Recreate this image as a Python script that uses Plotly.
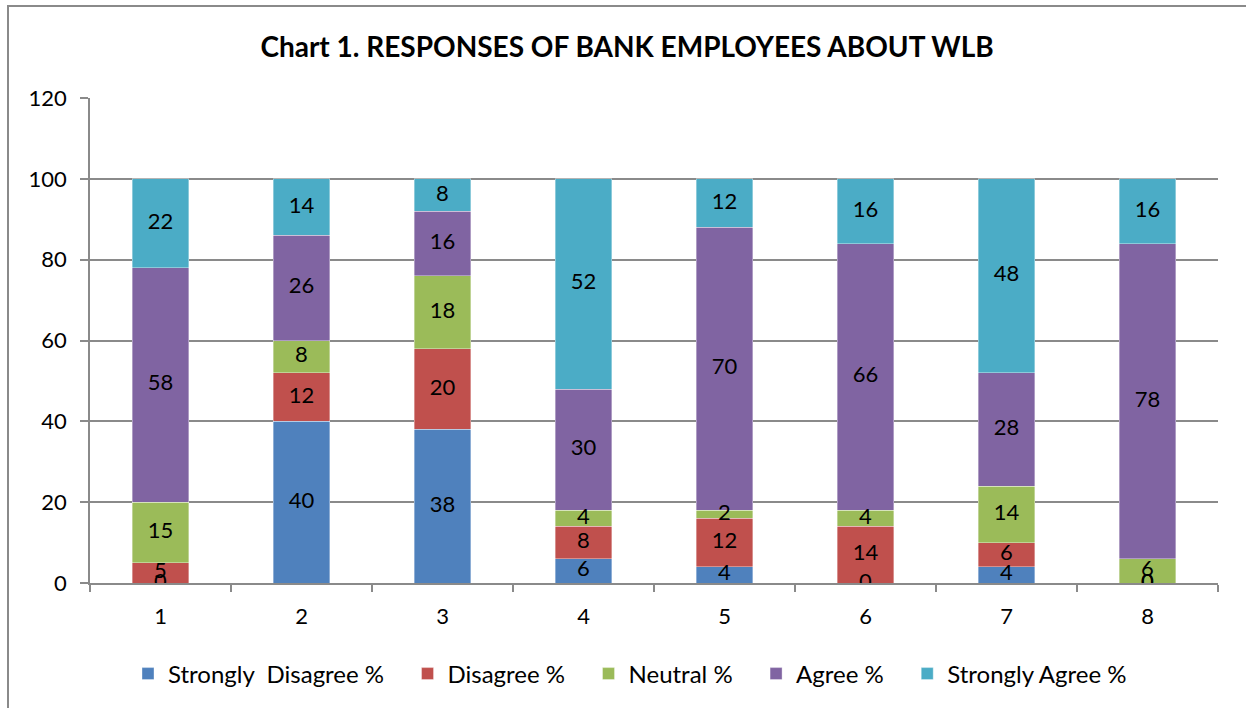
import plotly.graph_objects as go

# Survey items (x categories) and percentage of responses per option
items = ["1", "2", "3", "4", "5", "6", "7", "8"]
strongly_disagree = [0, 40, 38, 6, 4, 0, 4, 0]
disagree = [5, 12, 20, 8, 12, 14, 6, 0]
neutral = [15, 8, 18, 4, 2, 4, 14, 6]
agree = [58, 26, 16, 30, 70, 66, 28, 78]
strongly_agree = [22, 14, 8, 52, 12, 16, 48, 16]

series_names = ["Strongly  Disagree %", "Disagree %", "Neutral %", "Agree %", "Strongly Agree %"]
series_values = [strongly_disagree, disagree, neutral, agree, strongly_agree]
series_colors = ["#4F81BD", "#C0504D", "#9BBB59", "#8064A2", "#4BACC6"]

FONT = "Lato"
W, H = 1246, 708
L, R, T, B = 90, 28, 98, 125
GREY = "#8a8a8a"
LEGEND_PAD = "   "  # extra spacing between legend entries

fig = go.Figure()

# Stacked bars
for i, (name, vals, color) in enumerate(zip(series_names, series_values, series_colors)):
    label = name + (LEGEND_PAD if i < len(series_names) - 1 else "")
    fig.add_trace(go.Bar(
        x=items, y=vals, name=label,
        marker=dict(color=color, line=dict(color="rgba(255,255,255,0.6)", width=0.6)),
        hovertemplate=name + ": %{y}<extra></extra>",
    ))

# Value labels centred in each segment (zero-height segments labelled at their base)
base = [0] * len(items)
for vals in series_values:
    mids = [b + v / 2 for b, v in zip(base, vals)]
    fig.add_trace(go.Scatter(
        x=items, y=mids, mode="text", text=[str(v) for v in vals],
        textfont=dict(family=FONT, size=22, color="black"),
        showlegend=False, hoverinfo="skip",
    ))
    base = [b + v for b, v in zip(base, vals)]

# Outer chart frame
pw = W - L - R
ph = H - T - B
fig.add_shape(
    type="rect", xref="paper", yref="paper",
    x0=(8 - L) / pw, x1=(W + 20 - L) / pw,
    y0=(H - B - (H + 20)) / ph, y1=(H - B - 6) / ph,
    line=dict(color=GREY, width=2), fillcolor="rgba(0,0,0,0)", layer="below",
)

fig.update_layout(
    width=W, height=H,
    margin=dict(l=L, r=R, t=T, b=B, autoexpand=False),
    paper_bgcolor="white", plot_bgcolor="white",
    barmode="stack", bargap=0.6,
    font=dict(family=FONT, size=22, color="black"),
    title=dict(
        text="<b>Chart 1. RESPONSES OF BANK EMPLOYEES ABOUT WLB</b>",
        x=627 / W, xref="container", xanchor="center",
        y=1 - 47 / H, yref="container", yanchor="middle",
        font=dict(family=FONT, size=28, color="black"),
    ),
    xaxis=dict(
        type="category", tickson="boundaries", ticks="outside", ticklen=7,
        tickcolor=GREY, tickwidth=1.5,
        showline=True, linecolor=GREY, linewidth=1.5,
        showgrid=False, tickfont=dict(family=FONT, size=22),
        ticklabelstandoff=13,
        range=[-0.5, 7.5],
    ),
    yaxis=dict(
        range=[0, 120], dtick=20, ticks="outside", ticklen=8,
        tickcolor=GREY, tickwidth=1.5,
        showline=True, linecolor=GREY, linewidth=1.5,
        showgrid=True, gridcolor=GREY, gridwidth=1.5,
        zeroline=False, tickfont=dict(family=FONT, size=22),
        ticklabelstandoff=9,
    ),
    legend=dict(
        orientation="h", xref="container", yref="container",
        x=630 / W, xanchor="center", y=1 - 674 / H, yanchor="middle",
        font=dict(family=FONT, size=24), traceorder="normal",
        itemwidth=30,
    ),
)

fig.write_html("out.html")
